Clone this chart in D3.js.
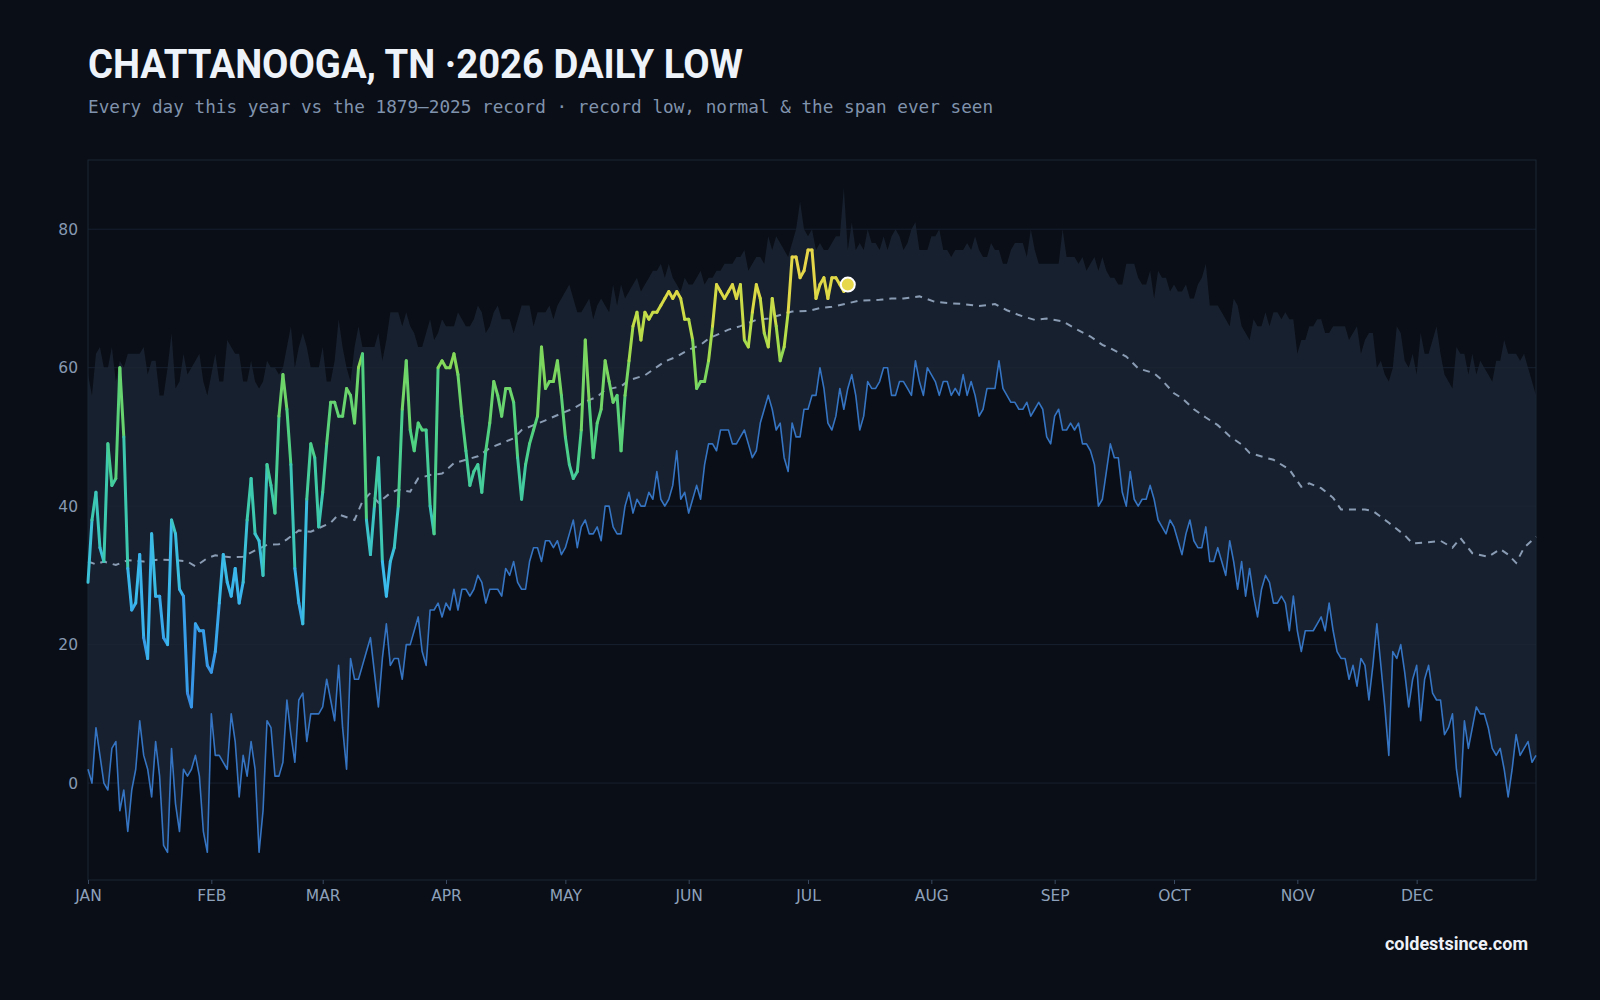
<!DOCTYPE html>
<html>
<head>
<meta charset="utf-8">
<title>Chattanooga 2026 daily low</title>
<script src="https://cdn.jsdelivr.net/npm/d3@7"></script>
<style>
  body { margin: 0; background: #0a0e16; }
  svg { display: block; }
</style>
</head>
<body>
<svg id="mainsvg" width="1600" height="1000"></svg>
<script>
// month labels + day-of-year where each month starts (2026, not leap)
const MONTHS = ['JAN','FEB','MAR','APR','MAY','JUN','JUL','AUG','SEP','OCT','NOV','DEC'];
const MONTH_START = [0,31,59,90,120,151,181,212,243,273,304,334];
const Y_TICKS = [0,20,40,60,80];

// record low for each day of the year, 1879-2025 (F)
const recordLow = [
  2,0,8,4,0,-1,5,6,-4,-1, -7,-1,2,9,4,2,-2,6,1,-9,
  -10,5,-3,-7,2,1,2,4,1,-7, -10,10,4,4,3,2,10,6,-2,4,
  1,6,2,-10,-4,9,8,1,1,3, 12,7,3,12,13,6,10,10,10,11,
  15,12,9,17,8,2,18,15,15,17, 19,21,16,11,18,23,17,18,18,15,
  20,20,22,24,19,17,25,25,26,24, 26,25,28,25,28,28,27,28,30,29,
  26,28,28,28,27,31,30,32,29,28, 28,32,34,34,32,35,35,34,35,33,
  34,36,38,34,37,38,36,36,37,35, 40,40,37,36,36,40,42,39,41,40,
  40,42,41,45,41,40,41,43,48,41, 42,39,41,43,41,46,49,49,48,51,
  51,51,49,49,50,51,49,47,48,52, 54,56,54,51,52,47,45,52,50,50,
  54,54,56,56,60,57,52,51,53,57, 54,57,59,56,51,53,58,57,57,58,
  60,60,56,56,58,58,57,56,61,58, 56,60,59,58,56,58,58,56,57,56,
  59,56,58,56,53,54,57,57,57,61, 57,56,55,55,54,54,55,53,54,55,
  54,50,49,53,54,51,51,52,51,52, 49,49,48,46,40,41,45,49,47,47,
  42,40,45,41,40,41,41,43,41,38, 37,36,38,37,35,33,36,38,35,34,
  34,37,32,32,34,32,30,35,32,28, 32,27,31,27,24,28,30,29,26,26,
  27,26,22,27,22,19,22,22,22,23, 24,22,26,22,19,18,18,15,17,14,
  18,17,12,17,23,17,11,4,19,18, 20,16,11,15,17,9,15,17,13,12,
  12,7,8,10,2,-2,9,5,8,11, 10,10,8,5,4,5,2,-2,2,7,
  4,5,6,3,4
];

// highest daily low ever seen (top of the span band)
const recordHigh = [
  59,56,62,63,60,60,63,58,61,60, 62,62,62,62,63,59,61,61,56,56,
  60,65,57,58,62,59,60,61,62,58, 56,59,62,58,58,64,63,62,62,58,
  58,61,58,57,58,61,60,60,59,60, 63,66,60,63,65,63,60,60,60,63,
  58,58,61,67,63,60,58,63,66,63, 63,63,63,65,61,64,68,68,68,66,
  68,66,65,63,63,65,67,64,65,67, 66,66,66,68,67,66,66,67,69,68,
  65,66,68,69,67,67,67,65,67,69, 69,69,66,68,68,68,69,67,69,70,
  71,72,70,68,68,69,70,67,69,70, 69,68,72,69,72,70,71,72,73,71,
  72,73,74,74,75,73,75,73,72,71, 73,72,72,73,74,72,73,73,74,74,
  75,75,75,76,76,77,74,75,76,76, 75,79,77,79,78,77,76,78,80,84,
  80,79,80,77,78,77,77,78,79,79, 86,77,81,77,78,77,80,78,78,77,
  79,77,79,80,79,77,78,80,81,77, 77,77,79,79,80,77,77,76,77,77,
  77,78,77,79,77,76,76,78,77,77, 75,75,77,78,78,78,76,80,77,75,
  75,75,75,75,75,80,76,76,76,75, 76,74,75,76,74,76,74,73,73,72,
  72,75,75,75,73,72,72,74,70,74, 73,73,71,72,71,71,72,70,70,72,
  73,75,69,69,69,68,67,66,70,69, 66,65,64,67,66,66,68,66,68,68,
  67,68,67,67,62,64,64,66,66,67, 67,65,65,66,66,66,66,64,65,66,
  62,64,65,65,60,61,59,58,60,66, 65,61,60,62,59,65,62,62,64,66,
  62,59,58,57,63,62,62,59,62,59, 61,60,59,58,61,61,64,62,62,62,
  61,62,60,58,56
];

// normal low, read every few days
const normalDay = [0,2,4,7,10,14,18,22,25,27,30,32,36,39,42,45,48,50,53,56,61,63,67,69,71,73,76,78,81,83,86,89,92,95,98,
  101,104,107,109,112,115,119,122,125,128,130,134,136,140,142,145,148,151,154,156,161,164,168,171,175,177,181,184,187,191,194,199,
  202,205,209,213,217,220,224,228,231,234,238,241,245,248,252,255,257,261,264,268,270,273,275,278,281,284,287,290,292,296,298,
  302,305,307,310,313,315,318,321,323,327,331,333,337,340,343,345,348,352,355,357,359,361,364];
const normalLow = [32.0,31.6,32.0,31.5,32.2,32.0,32.3,32.2,32.0,31.3,32.5,32.9,32.6,32.7,33.6,34.4,34.5,35.2,36.5,36.3,37.6,38.8,38.0,40.7,41.9,40.5,41.9,42.4,42.1,44.0,44.5,44.7,46.2,46.7,47.2,
  48.4,49.1,49.8,51.0,51.7,52.4,53.4,54.1,55.1,55.8,56.8,57.3,58.2,58.9,59.7,60.9,61.6,62.6,63.3,64.2,65.5,66.0,66.9,67.1,67.8,68.1,68.2,68.6,68.8,69.3,69.7,69.8,
  70.0,70.0,70.3,69.5,69.3,69.2,68.9,69.2,68.3,67.6,66.9,67.1,66.7,65.7,64.5,63.3,62.8,61.6,59.9,59.2,58.2,56.3,55.6,54.0,52.8,51.7,50.1,48.9,47.7,47.0,46.7,
  45.3,42.8,43.3,42.6,41.2,39.5,39.5,39.5,39.3,37.6,35.8,34.6,34.8,35.0,34.0,35.4,33.2,32.7,33.8,33.0,31.8,34.0,35.6];

// observed daily low in 2026, Jan 1 .. Jul 11
const low2026 = [
  29,38,42,34,32,49,43,44,60,50, 31,25,26,33,21,18,36,27,27,21,
  20,38,36,28,27,13,11,23,22,22, 17,16,19,26,33,29,27,31,26,29,
  38,44,36,35,30,46,43,39,53,59, 54,46,31,26,23,41,49,47,37,42,
  49,55,55,53,53,57,56,52,60,62, 38,33,40,47,32,27,32,34,40,54,
  61,51,48,52,51,51,40,36,60,61, 60,60,62,59,53,48,43,45,46,42,
  48,52,58,56,53,57,57,55,47,41, 46,49,51,53,63,57,58,58,61,56,
  50,46,44,45,51,64,55,47,52,54, 61,58,55,56,48,56,61,66,68,64,
  68,67,68,68,69,70,71,70,71,70, 67,67,64,57,58,58,61,66,72,71,
  70,71,72,70,72,64,63,68,72,70, 65,63,70,66,61,63,68,76,76,73,
  74,77,77,70,72,73,70,73,73,72, 71,72
];

const svg = d3.select('#mainsvg');
const width = +svg.attr('width');
const height = +svg.attr('height');
const margin = {top: 160, right: 64, bottom: 120, left: 88};
const innerWidth = width - margin.left - margin.right;
const innerHeight = height - margin.top - margin.bottom;

svg.append('rect').attr('width', width).attr('height', height).attr('fill', '#0a0e16');

const xScale = d3.scaleLinear().domain([0, 364]).range([0, innerWidth]);
const yScale = d3.scaleLinear().domain([-14, 90]).range([innerHeight, 0]);

const g = svg.append('g').attr('id', 'maingroup')
  .attr('transform', `translate(${margin.left}, ${margin.top})`);

// gridlines
g.append('g').selectAll('line').data(Y_TICKS).join('line')
  .attr('x1', 0).attr('x2', innerWidth)
  .attr('y1', d => yScale(d)).attr('y2', d => yScale(d))
  .attr('stroke', '#172131').attr('stroke-width', 1);

// span band between record low and highest low
const days = recordLow.map((v, i) => ({day: i, low: v, high: recordHigh[i]}));
const band = d3.area()
  .x(d => xScale(d.day))
  .y0(d => yScale(d.low))
  .y1(d => yScale(d.high));
g.append('path').datum(days).attr('d', band)
  .attr('fill', '#1b2533').attr('fill-opacity', 0.82);

// plot frame
g.append('rect').attr('width', innerWidth).attr('height', innerHeight)
  .attr('fill', 'none').attr('stroke', '#1b2636').attr('stroke-width', 1);

// record low line
g.append('path').datum(days)
  .attr('d', d3.line().x(d => xScale(d.day)).y(d => yScale(d.low)))
  .attr('fill', 'none').attr('stroke', '#3574c2').attr('stroke-width', 1.6)
  .attr('stroke-linejoin', 'round');

// normal (dashed)
const normal = normalDay.map((d, i) => ({day: d, v: normalLow[i]}));
g.append('path').datum(normal)
  .attr('d', d3.line().x(d => xScale(d.day)).y(d => yScale(d.v)))
  .attr('fill', 'none').attr('stroke', '#8a9cb4').attr('stroke-width', 2)
  .attr('stroke-dasharray', '7 6');

// 2026, each segment coloured by its temperature
const color = d3.scaleLinear()
  .domain([10, 20, 30, 40, 50, 60, 65, 70, 75])
  .range(['#3784dc', '#389eea', '#3bbbec', '#3cc9b0', '#50d182', '#7fd75c', '#b2dd4a', '#d9da46', '#e8d64a'])
  .clamp(true);

const pts = low2026.map((v, i) => ({day: i, v: v}));
const segs = d3.pairs(pts);
g.append('g').selectAll('line').data(segs).join('line')
  .attr('x1', d => xScale(d[0].day)).attr('y1', d => yScale(d[0].v))
  .attr('x2', d => xScale(d[1].day)).attr('y2', d => yScale(d[1].v))
  .attr('stroke', d => color((d[0].v + d[1].v) / 2))
  .attr('stroke-width', 3).attr('stroke-linecap', 'round');

const last = pts[pts.length - 1];
g.append('circle')
  .attr('cx', xScale(last.day)).attr('cy', yScale(last.v)).attr('r', 7)
  .attr('fill', '#e6d84a').attr('stroke', '#ffffff').attr('stroke-width', 2);

// axes
const yAxis = d3.axisLeft(yScale).tickValues(Y_TICKS).tickSize(0).tickPadding(10);
const yg = g.append('g').call(yAxis)
  .attr('font-size', 15.5).attr('font-family', '"DejaVu Sans", sans-serif');
yg.select('.domain').remove();
yg.selectAll('text').attr('fill', '#8799b2');

const xAxis = d3.axisBottom(xScale).tickValues(MONTH_START)
  .tickFormat((d, i) => MONTHS[i]).tickSize(4).tickPadding(6);
const xg = g.append('g').attr('transform', `translate(0, ${innerHeight})`).call(xAxis)
  .attr('font-size', 15.5).attr('font-family', '"DejaVu Sans", sans-serif');
xg.select('.domain').remove();
xg.selectAll('line').attr('stroke', '#3a4a60');
xg.selectAll('text').attr('fill', '#8ea1bb');

// titles
svg.append('text').text('CHATTANOOGA, TN ·2026 DAILY LOW')
  .attr('x', 88).attr('y', 77.5)
  .attr('font-family', 'Roboto, "Open Sans", sans-serif').attr('font-weight', 700)
  .attr('font-size', '40px').attr('fill', '#eef3fa')
  .attr('textLength', 655).attr('lengthAdjust', 'spacingAndGlyphs');

svg.append('text').text('Every day this year vs the 1879–2025 record · record low, normal & the span ever seen')
  .attr('x', 88).attr('y', 112.5)
  .attr('font-family', '"DejaVu Sans Mono", monospace')
  .attr('font-size', '17.7px').attr('fill', '#8093ad');

svg.append('text').text('coldestsince.com')
  .attr('x', 1528).attr('y', 950).attr('text-anchor', 'end')
  .attr('font-family', 'Roboto, sans-serif').attr('font-weight', 700)
  .attr('font-size', '18px').attr('fill', '#eef2f8');
</script>
</body>
</html>
